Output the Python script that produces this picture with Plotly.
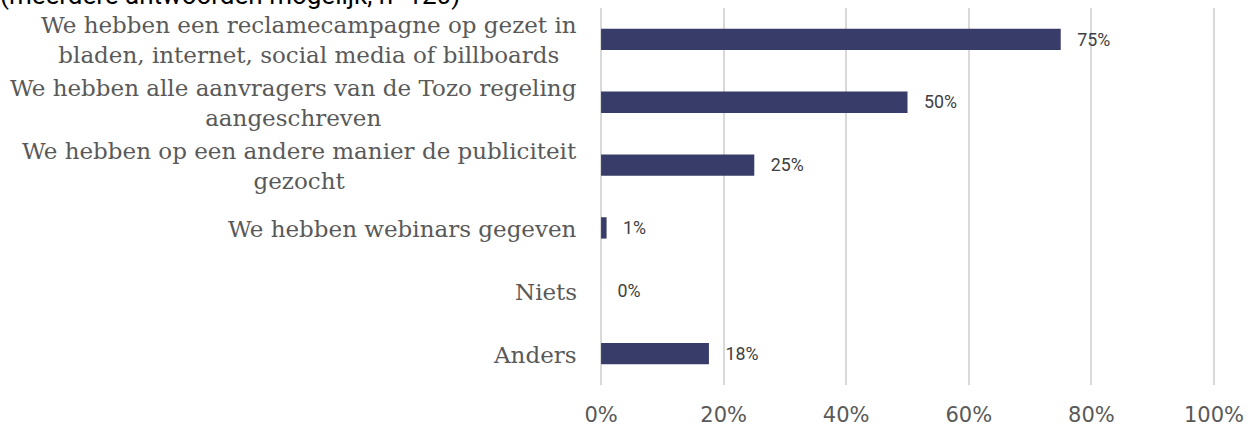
import plotly.graph_objects as go

categories = [
    "We hebben een reclamecampagne op gezet in<br>bladen, internet, social media of billboards",
    "We hebben alle aanvragers van de Tozo regeling<br>aangeschreven",
    "We hebben op een andere manier de publiciteit<br>gezocht",
    "We hebben webinars gegeven",
    "Niets",
    "Anders",
]
values = [75, 50, 25, 0.9, 0, 17.6]
value_labels = ["75%", "50%", "25%", "1%", "0%", "18%"]
x_ticks = [0, 20, 40, 60, 80, 100]
x_ticklabels = ["0%", "20%", "40%", "60%", "80%", "100%"]
title_text = "(meerdere antwoorden mogelijk, n=120)"

fig = go.Figure()
fig.add_trace(go.Bar(
    y=categories,
    x=values,
    orientation="h",
    marker=dict(color="#383C69", line=dict(width=0)),
    width=0.34,
    text=["\u2002\u00a0" + t for t in value_labels],
    textposition="outside",
    cliponaxis=False,
    textfont=dict(family="Roboto", size=20, color="#404040"),
    hoverinfo="skip",
))

for c in categories:
    fig.add_annotation(
        x=0, xref="paper", y=c, yref="y",
        text=c, showarrow=False, xanchor="right", align="center",
        xshift=-19, yshift=-1,
        font=dict(family="DejaVu Serif", size=23, color="#595959"),
    )

fig.add_annotation(
    x=0, xref="paper", y=1, yref="paper", xanchor="left", yanchor="bottom",
    xshift=-600, yshift=-4,
    text=title_text, showarrow=False,
    font=dict(family="Roboto", size=26, color="#000000"),
)

fig.update_layout(
    width=1249, height=426,
    margin=dict(l=598, r=32, t=8, b=41, autoexpand=False),
    plot_bgcolor="white", paper_bgcolor="white",
    showlegend=False,
    bargap=0.66,
)
fig.update_xaxes(
    range=[-0.5, 100.5], tickvals=x_ticks, ticktext=x_ticklabels,
    showgrid=True, gridcolor="#D9D9D9", gridwidth=2,
    zeroline=False, showline=False, ticks="",
    tickfont=dict(family="DejaVu Sans", size=21, color="#595959"),
    ticklabelstandoff=15,
)
fig.update_yaxes(
    autorange="reversed", showticklabels=False, showgrid=False,
    zeroline=False, showline=False, ticks="",
)

fig.write_html(
    "out.html",
    config={"displayModeBar": False},
    post_script="document.body.style.margin='0';document.body.style.overflow='hidden';",
)
